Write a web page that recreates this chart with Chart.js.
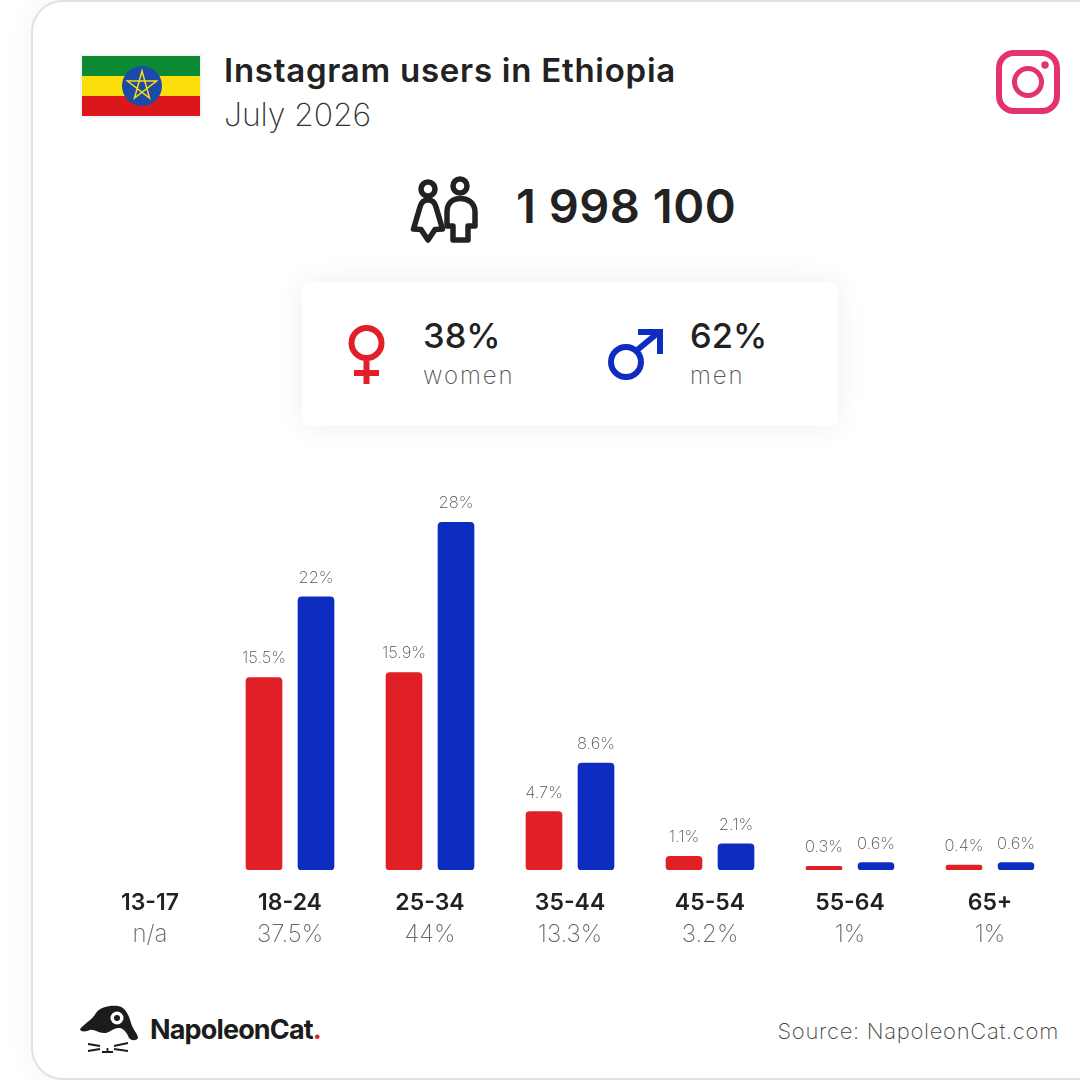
<!DOCTYPE html>
<html>
<head>
<meta charset="utf-8">
<title>Instagram users in Ethiopia</title>
<script src="https://cdn.jsdelivr.net/npm/chart.js@4/dist/chart.umd.min.js"></script>
<style>
	html, body { margin: 0; padding: 0; width: 1080px; height: 1080px; overflow: hidden; background: #fff; font-family: Inter, "Open Sans", sans-serif; color: #222; }
	#card { position: absolute; left: 31px; top: 0; width: 1100px; height: 1076px; border: 2px solid #e2e2e2; border-radius: 32px; background: #fff; box-shadow: 0 0 30px rgba(0,0,0,.05); }
	#box { position: absolute; left: 302px; top: 282px; width: 536px; height: 144px; border-radius: 8px; background: #fff; box-shadow: 0 0 30px rgba(0,0,0,.07); }
	.t { position: absolute; white-space: nowrap; line-height: 1; }
	svg { position: absolute; left: 0; top: 0; }
	canvas { position: absolute; left: 80px; top: 480px; }
</style>
</head>
<body>
<div id="card"></div>
<div id="box"></div>

<svg width="1080" height="1080">
	<!-- flag -->
	<rect x="80" y="54" width="122" height="64" fill="#f3f3f3"/>
	<rect x="82" y="56" width="118" height="20" fill="#0b8a33"/>
	<rect x="82" y="76" width="118" height="20" fill="#fcdf0a"/>
	<rect x="82" y="96" width="118" height="20" fill="#dc171c"/>
	<circle cx="142" cy="86" r="20" fill="#1b4aa8"/>
	<path d="M142 71 L149.5 98 L127.5 81 L156.5 81 L134.5 98 Z" fill="none" stroke="#fcdf0a" stroke-width="1.5"/>

	<!-- instagram -->
	<rect x="999" y="53" width="58" height="58" rx="15" fill="none" stroke="#e4326e" stroke-width="6"/>
	<circle cx="1028" cy="82" r="13.5" fill="none" stroke="#e4326e" stroke-width="5"/>
	<circle cx="1045" cy="65" r="3.7" fill="#e4326e"/>

	<!-- people -->
	<g fill="none" stroke="#222" stroke-width="5.5" stroke-linejoin="round">
		<circle cx="428" cy="189" r="7"/>
		<path d="M428 200 C423 200 421 203 420 207 L413.5 229 L421 229.500 L428 240 L435 229.500 L442.500 229 L436 207 C435 203 433 200 428 200 Z"/>
		<circle cx="460" cy="186" r="7"/>
		<path d="M453 226 L447 226 L447 212 C447 203 453 198.500 460.500 198.500 C468 198.500 475 203 475 212 L475 226 L468 226 L468 240 L453 240 Z"/>
	</g>

	<!-- female sign -->
	<g fill="none" stroke="#e01f26" stroke-width="6">
		<circle cx="366.500" cy="343" r="15"/>
		<path d="M366.500 361 V384 M354 373 H379"/>
	</g>
	<!-- male sign -->
	<g fill="none" stroke="#0f2cc0" stroke-width="6">
		<circle cx="626" cy="362" r="15"/>
		<path d="M636 351 L659 332"/>
	</g>
	<path d="M638 329 H663 V354 H657 V335 H638 Z" fill="#0f2cc0"/>

	<!-- logo -->
	<path d="M80 1029 C84 1024 92 1020 96 1013 C100 1007 110 1005 118 1006 C125 1007 129 1015 131 1023 C133 1030 138 1034 138 1038 C136 1041 132 1041 129 1038 C127 1033 124 1029 120 1028 C114 1027 110 1033 104 1033 C98 1033 94 1029 90 1030 C86 1032 80 1032 80 1029 Z" fill="#1c1c1c"/>
	<circle cx="117" cy="1018" r="6.500" fill="#fff"/>
	<circle cx="117" cy="1018" r="3" fill="#1c1c1c"/>
	<path d="M88 1044 L100 1046 M88 1051 L100 1049 M102 1052 H113 M107.500 1048 V1052 M114 1046 L128 1043 M114 1049 L128 1051" stroke="#1c1c1c" stroke-width="1.800" fill="none"/>
</svg>

<div class="t" style="left:224px;top:54px;font-size:33px;font-weight:600;letter-spacing:.74px;">Instagram users in Ethiopia</div>
<div class="t" style="left:224px;top:99px;font-size:32px;font-weight:200;color:#333;letter-spacing:-.1px;">July 2026</div>
<div class="t" style="left:516px;top:182px;font-size:47px;font-weight:600;letter-spacing:.5px;">1 998 100</div>
<div class="t" style="left:423px;top:319px;font-size:34.500px;font-weight:500;">38%</div>
<div class="t" style="left:423px;top:364px;font-size:24px;font-weight:200;color:#555;letter-spacing:1.900px;">women</div>
<div class="t" style="left:690px;top:319px;font-size:34.500px;font-weight:500;">62%</div>
<div class="t" style="left:690px;top:364px;font-size:24px;font-weight:200;color:#555;letter-spacing:1.900px;">men</div>
<div class="t" style="left:150px;top:1016px;font-size:27px;font-weight:700;color:#1c1c1c;letter-spacing:-.85px;">NapoleonCat<span style="color:#e01f26">.</span></div>
<div class="t" style="right:21px;top:1020px;font-size:22px;font-weight:200;color:#444;letter-spacing:.7px;">Source: NapoleonCat.com</div>

<canvas id="ages" width="980" height="470"></canvas>

<script>
var ageGroups = ['13-17', '18-24', '25-34', '35-44', '45-54', '55-64', '65+'];
var ageTotals = ['n/a', '37.5%', '44%', '13.3%', '3.2%', '1%', '1%'];
var women = [null, 15.5, 15.9, 4.7, 1.1, 0.3, 0.4];
var men = [null, 22, 28, 8.6, 2.1, 0.6, 0.6];

/* bars sit 26px either side of the group centre, groups are 140px apart */
var shift = 26 / 140;

function toPoints(values, offset) {
	return values.map(function(value, i) {
		return { x: i + offset, y: value };
	});
}

function groupTicks(scale) {
	scale.ticks = ageGroups.map(function(name, i) {
		return { value: i };
	});
}

/* percent labels above the bars */
var barLabels = {
	id: 'barLabels',
	afterDatasetsDraw: function(chart) {
		var ctx = chart.ctx;
		ctx.save();
		ctx.font = '200 16.5px Inter';
		ctx.fillStyle = '#555';
		ctx.textAlign = 'center';
		ctx.textBaseline = 'middle';
		chart.data.datasets.forEach(function(dataset, d) {
			chart.getDatasetMeta(d).data.forEach(function(bar, i) {
				var value = dataset.data[i].y;
				if (value === null) return;
				ctx.fillText(value + '%', bar.x, bar.y - 19);
			});
		});
		ctx.restore();
	}
};

var chart = new Chart(document.getElementById('ages'), {
	type: 'bar',
	plugins: [barLabels],
	data: {
		datasets: [{
			label: 'women',
			data: toPoints(women, -shift),
			backgroundColor: '#e01f26'
		}, {
			label: 'men',
			data: toPoints(men, shift),
			backgroundColor: '#0f2cc0'
		}]
	},
	options: {
		responsive: false,
		animation: false,
		devicePixelRatio: 1,
		layout: { padding: 0 },
		datasets: {
			bar: {
				grouped: false,
				barThickness: 36,
				borderRadius: 4,
				borderSkipped: false
			}
		},
		plugins: {
			legend: { display: false },
			tooltip: { enabled: false }
		},
		scales: {
			y: { display: false, min: 0, max: 31.4 },
			x: {
				type: 'linear',
				position: 'bottom',
				offset: false,
				min: -0.5,
				max: 6.5,
				grid: { display: false, tickLength: 0 },
				border: { display: false },
				afterBuildTicks: groupTicks,
				afterFit: function(scale) { scale.height = 46; },
				ticks: {
					autoSkip: false,
					maxRotation: 0,
					padding: 19,
					color: '#222',
					font: { family: 'Inter', size: 23, weight: '600' },
					callback: function(value) { return ageGroups[value]; }
				}
			},
			totals: {
				type: 'linear',
				position: 'bottom',
				offset: false,
				min: -0.5,
				max: 6.5,
				grid: { display: false, tickLength: 0 },
				border: { display: false },
				afterBuildTicks: groupTicks,
				afterFit: function(scale) { scale.height = 34; },
				ticks: {
					autoSkip: false,
					maxRotation: 0,
					padding: 4,
					color: '#666',
					font: { family: 'Inter', size: 24, weight: '200' },
					callback: function(value) { return ageTotals[value]; }
				}
			}
		}
	}
});
</script>
</body>
</html>
